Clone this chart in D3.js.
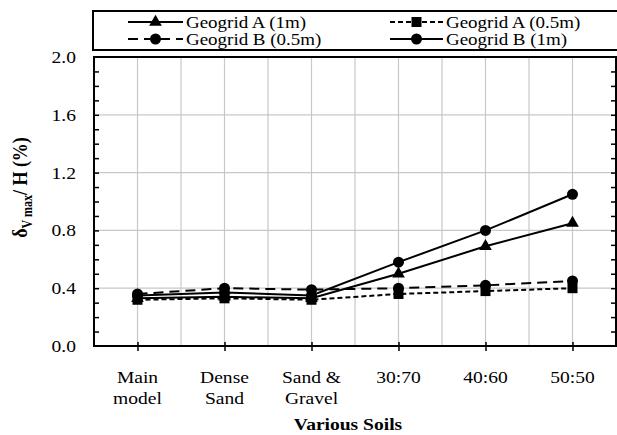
<!DOCTYPE html>
<html>
<head>
<meta charset="utf-8">
<script src="https://cdn.jsdelivr.net/npm/d3@7"></script>
<style>
  html, body { margin: 0; padding: 0; background: #fff; }
  svg { display: block; font-family: "Liberation Serif", "Times New Roman", serif; }
</style>
</head>
<body>
<svg id="chart" width="617" height="435"></svg>
<script>
// Soil cases on the x axis (two-line labels)
const categories = [["Main", "model"], ["Dense", "Sand"], ["Sand &", "Gravel"], ["30:70"], ["40:60"], ["50:50"]];

// Normalised maximum vertical displacement, δv max / H (%)
const geogridA1m  = [0.33, 0.34, 0.33, 0.50, 0.69, 0.85];
const geogridA05m = [0.32, 0.33, 0.32, 0.36, 0.38, 0.40];
const geogridB05m = [0.36, 0.40, 0.39, 0.40, 0.42, 0.45];
const geogridB1m  = [0.35, 0.37, 0.35, 0.58, 0.80, 1.05];

const yTicks = [0.0, 0.4, 0.8, 1.2, 1.6, 2.0];

const series = [
  { name: "Geogrid A (1m)",   values: geogridA1m,  dash: null,   marker: "triangle" },
  { name: "Geogrid A (0.5m)", values: geogridA05m, dash: "5,3",  marker: "square" },
  { name: "Geogrid B (0.5m)", values: geogridB05m, dash: "10,6", marker: "circle" },
  { name: "Geogrid B (1m)",   values: geogridB1m,  dash: null,   marker: "circle" }
];

const FONT = 17;      // base text size
const WIDEN = 1.15;   // horizontal widening of the serif lettering

const svg = d3.select("#chart");
const plot = { left: 94, right: 616, top: 57, bottom: 346 };

const x = d3.scaleLinear().domain([-0.5, categories.length - 0.5]).range([plot.left, plot.right]);
const y = d3.scaleLinear().domain([0, 2]).range([plot.bottom, plot.top]);

// Text widened horizontally around its anchor point
function wideText(parent, tx, ty, str, anchor, opts = {}) {
  const grp = parent.append("g").attr("transform", `translate(${tx},${ty}) scale(${WIDEN},1)`);
  const t = grp.append("text").attr("x", 0).attr("y", 0)
    .attr("text-anchor", anchor).attr("font-size", opts.size || FONT)
    .attr("font-weight", opts.weight || "normal").attr("fill", "#000");
  if (str !== null) t.text(str);
  return t;
}

// Gridlines
const g = svg.append("g");
g.selectAll(".vgrid").data(d3.range(0, categories.length, 0.5)).join("line")
  .attr("x1", d => x(d)).attr("x2", d => x(d))
  .attr("y1", plot.top).attr("y2", plot.bottom)
  .attr("stroke", "#c8c8c8").attr("stroke-width", 1.2);
g.selectAll(".hgrid").data(yTicks.slice(1, -1)).join("line")
  .attr("x1", plot.left).attr("x2", plot.right)
  .attr("y1", d => y(d)).attr("y2", d => y(d))
  .attr("stroke", "#c8c8c8").attr("stroke-width", 1.2);

// Minor ticks on the left and right edges, pointing inward
const minor = d3.range(0.1, 2.0, 0.1);
const axL = d3.axisLeft(y).tickValues(minor).tickSizeInner(-5).tickSizeOuter(0).tickFormat("");
const axR = d3.axisRight(y).tickValues(minor).tickSizeInner(-5).tickSizeOuter(0).tickFormat("");
svg.append("g").attr("transform", `translate(${plot.left},0)`).call(axL)
  .call(s => s.select(".domain").remove())
  .selectAll("line").attr("stroke", "#000").attr("stroke-width", 1.5);
svg.append("g").attr("transform", `translate(${plot.right},0)`).call(axR)
  .call(s => s.select(".domain").remove())
  .selectAll("line").attr("stroke", "#000").attr("stroke-width", 1.5);

// Y tick labels
const fmt = d3.format(".1f");
const yl = svg.append("g");
yTicks.forEach(v => wideText(yl, plot.left - 18, y(v) + 6, fmt(v), "end"));

// X ticks and labels
const axX = d3.axisBottom(x).tickValues(d3.range(categories.length)).tickSize(5).tickFormat("");
const xg = svg.append("g").attr("transform", `translate(0,${plot.bottom})`).call(axX);
xg.select(".domain").remove();
xg.selectAll("line").attr("stroke", "#000").attr("stroke-width", 1.5).attr("y1", -4);

const labels = svg.append("g");
categories.forEach((lines, i) => {
  lines.forEach((ln, k) => wideText(labels, x(i), 383 + k * 21, ln, "middle"));
});

wideText(svg, 348, 430, "Various Soils", "middle", { weight: "bold" });

// Y axis title
const yt = svg.append("text").attr("transform", `translate(27,${(plot.top + plot.bottom) / 2 - 14}) rotate(-90) scale(1,${WIDEN})`)
  .attr("text-anchor", "middle").attr("font-size", 18).attr("font-weight", "bold");
yt.append("tspan").text("δ");
yt.append("tspan").attr("font-size", 12).attr("dy", 4).text("V max");
yt.append("tspan").attr("dy", -4).text("/ H (%)");

// Plot frame
svg.append("rect").attr("x", plot.left).attr("y", plot.top)
  .attr("width", plot.right - plot.left).attr("height", plot.bottom - plot.top)
  .attr("fill", "none").attr("stroke", "#000").attr("stroke-width", 2);

// Marker drawing
function drawMarker(sel, type, cx, cy) {
  if (type === "circle") {
    sel.append("circle").attr("cx", cx).attr("cy", cy).attr("r", 5.5).attr("fill", "#000");
  } else if (type === "square") {
    sel.append("rect").attr("x", cx - 5).attr("y", cy - 5).attr("width", 10).attr("height", 10).attr("fill", "#000");
  } else {
    sel.append("path").attr("d", d3.symbol(d3.symbolTriangle, 70)()).attr("transform", `translate(${cx},${cy})`).attr("fill", "#000");
  }
}

const line = d3.line().x((d, i) => x(i)).y(d => y(d));
series.forEach(s => {
  const sg = svg.append("g");
  sg.append("path").datum(s.values).attr("d", line)
    .attr("fill", "none").attr("stroke", "#000").attr("stroke-width", 2)
    .attr("stroke-dasharray", s.dash);
  s.values.forEach((v, i) => drawMarker(sg, s.marker, x(i), y(v)));
});

// Legend
const leg = svg.append("g");
leg.append("rect").attr("x", 93).attr("y", 11).attr("width", 530).attr("height", 39)
  .attr("fill", "#fff").attr("stroke", "#000").attr("stroke-width", 2);
const legPos = [
  { x1: 128, x2: 183, tx: 186, y: 22 },
  { x1: 390, x2: 443, tx: 446, y: 22 },
  { x1: 128, x2: 183, tx: 186, y: 39 },
  { x1: 390, x2: 443, tx: 446, y: 39 }
];
series.forEach((s, i) => {
  const p = legPos[i];
  leg.append("line").attr("x1", p.x1).attr("x2", p.x2).attr("y1", p.y).attr("y2", p.y)
    .attr("stroke", "#000").attr("stroke-width", 2).attr("stroke-dasharray", s.dash);
  drawMarker(leg, s.marker, (p.x1 + p.x2) / 2, p.y);
  wideText(leg, p.tx, p.y + 5.5, s.name, "start", { size: 16.5 });
});
</script>
</body>
</html>
